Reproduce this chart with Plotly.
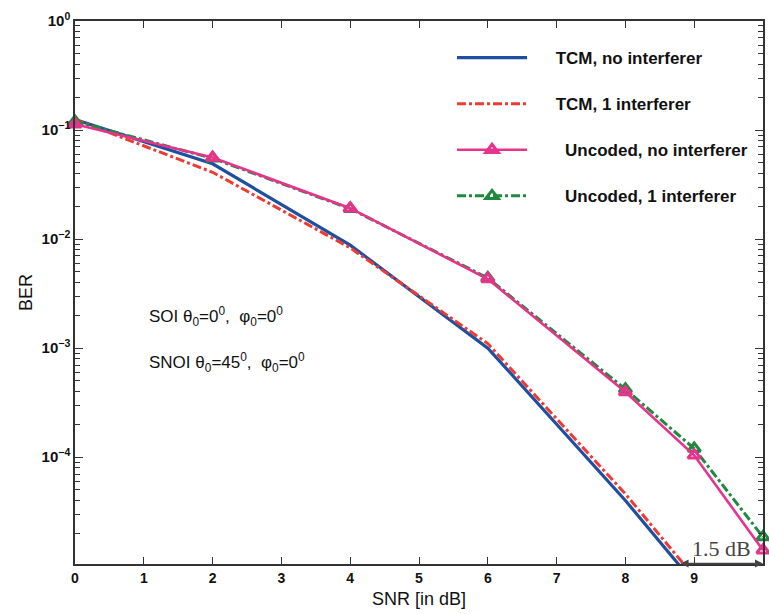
import plotly.graph_objects as go

# ---- data ----
snr_tcm = [0, 2, 4, 6, 8, 9]
ber_tcm_noint = [0.125, 0.049, 8.8e-3, 1.0e-3, 4.0e-5, 7.0e-6]
ber_tcm_1int = [0.125, 0.041, 8.3e-3, 1.1e-3, 4.6e-5, 8.0e-6]

snr_unc = [0, 2, 4, 6, 8, 9, 10]
ber_unc_noint = [0.113, 0.056, 0.0192, 4.3e-3, 3.95e-4, 1.04e-4, 1.4e-5]
ber_unc_1int = [0.12, 0.055, 0.019, 4.4e-3, 4.2e-4, 1.2e-4, 1.85e-5]

series_names = ["TCM, no interferer", "TCM, 1 interferer",
                "Uncoded, no interferer", "Uncoded, 1 interferer"]

x_ticks = [0, 1, 2, 3, 4, 5, 6, 7, 8, 9, 10]
y_tickvals = [1, 0.1, 0.01, 0.001, 0.0001]
y_ticktext = ["10<sup>0</sup>", "10<sup>\u22121</sup>", "10<sup>\u22122</sup>",
              "10<sup>\u22123</sup>", "10<sup>\u22124</sup>"]

y_log_min = -4.98
gap_start_snr = 8.78
gap_end_snr = 10
gap_label = "1.5 dB"

BLUE = "#1f4f9e"
RED = "#ee3a33"
PINK = "#e8338c"
GREEN = "#1f8a3e"

pad = "\u00a0" * 5

fig = go.Figure()
fig.add_trace(go.Scatter(x=snr_tcm, y=ber_tcm_noint, mode="lines", name=pad + series_names[0],
                         line=dict(color=BLUE, width=3.2), legendgroup="a", legendrank=1))
fig.add_trace(go.Scatter(x=snr_tcm, y=ber_tcm_1int, mode="lines", name=pad + series_names[1],
                         line=dict(color=RED, width=3, dash="dashdot"), legendgroup="b", legendrank=2))
fig.add_trace(go.Scatter(x=snr_unc, y=ber_unc_1int, mode="lines+markers", name=pad + "\u00a0\u00a0" + series_names[3],
                         line=dict(color=GREEN, width=3, dash="dashdot"),
                         marker=dict(symbol="triangle-up-open", size=11, color=GREEN,
                                     line=dict(width=3, color=GREEN)),
                         legendgroup="d", legendrank=4, cliponaxis=False))
fig.add_trace(go.Scatter(x=snr_unc, y=ber_unc_noint, mode="lines+markers", name=pad + "\u00a0\u00a0" + series_names[2],
                         line=dict(color=PINK, width=2.6),
                         marker=dict(symbol="triangle-up-open", size=11, color=PINK,
                                     line=dict(width=3, color=PINK)),
                         legendgroup="c", legendrank=3, cliponaxis=False))

axis_col = "#333333"
fig.update_xaxes(range=[0, 10], tickvals=x_ticks, ticks="inside", ticklen=7,
                 tickcolor=axis_col, showline=True, linecolor=axis_col, linewidth=1.5,
                 mirror="ticks", showgrid=False, zeroline=False,
                 tickfont=dict(family="Arial", size=14, color="#111", weight="bold"),
                 title=dict(text="SNR [in dB]", font=dict(family="Arial", size=18, color="#111"),
                            standoff=8))
fig.update_yaxes(type="log", range=[y_log_min, 0], tickvals=y_tickvals, ticktext=y_ticktext,
                 ticks="inside", ticklen=8, tickcolor=axis_col,
                 minor=dict(ticks="inside", ticklen=5, tickcolor=axis_col, dtick="D1", showgrid=False),
                 showline=True, linecolor=axis_col, linewidth=1.5, mirror="ticks",
                 showgrid=False, zeroline=False,
                 tickfont=dict(family="Arial", size=15, color="#111", weight="bold"),
                 title=dict(text="BER", font=dict(family="Arial", size=18, color="#111"),
                            standoff=4))

# 1.5 dB gap arrow
fig.add_annotation(x=gap_end_snr, y=y_log_min + 0.005, ax=gap_start_snr, ay=y_log_min + 0.005,
                   xref="x", yref="y", axref="x", ayref="y", text="",
                   showarrow=True, arrowhead=2, startarrowhead=2, arrowside="end+start",
                   arrowwidth=1.6, arrowsize=1, startarrowsize=1, arrowcolor="#444444")
fig.add_annotation(x=(gap_start_snr + gap_end_snr) / 2, y=y_log_min + 0.005, xref="x", yref="y",
                   text=gap_label, showarrow=False, yanchor="bottom", yshift=0,
                   font=dict(family="Liberation Serif", size=22, color="#444444"))

fig.add_annotation(x=0.104, y=0.455, xref="paper", yref="paper", xanchor="left",
                   text="SOI \u03b8<sub>0</sub>=0<sup>0</sup>,&nbsp; \u03c6<sub>0</sub>=0<sup>0</sup>",
                   showarrow=False, font=dict(family="Arial", size=17, color="#111"))
fig.add_annotation(x=0.104, y=0.372, xref="paper", yref="paper", xanchor="left",
                   text="SNOI \u03b8<sub>0</sub>=45<sup>0</sup>,&nbsp; \u03c6<sub>0</sub>=0<sup>0</sup>",
                   showarrow=False, font=dict(family="Arial", size=17, color="#111"))

fig.update_layout(
    width=769, height=614,
    margin=dict(l=75, r=4, t=21, b=50),
    paper_bgcolor="white", plot_bgcolor="white",
    legend=dict(x=0.548, y=0.965, xanchor="left", yanchor="top",
                bgcolor="rgba(255,255,255,0)", tracegroupgap=21, itemwidth=70,
                font=dict(family="Arial", size=17, color="#111", weight="bold"),
                traceorder="grouped"),
    showlegend=True,
)

fig.write_html("out.html", config={"displayModeBar": False},
               post_script="document.body.style.margin='0';")
